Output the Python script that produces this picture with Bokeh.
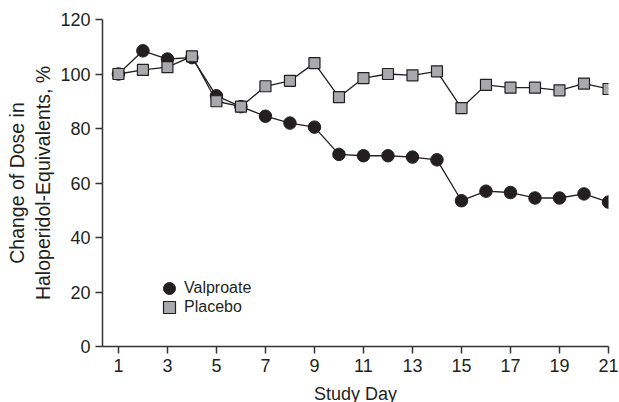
from bokeh.plotting import figure
from bokeh.models import Range1d, FixedTicker, Legend, LegendItem, ColumnDataSource
from bokeh.embed import file_html
from bokeh.resources import INLINE

days = list(range(1, 22))
valproate = [100, 108.5, 105.5, 106, 92, 88, 84.5, 82, 80.5, 70.5, 70, 70, 69.5, 68.5,
             53.5, 57, 56.5, 54.5, 54.5, 56, 53]
placebo = [100, 101.5, 102.5, 106.5, 90, 88, 95.5, 97.5, 104, 91.5, 98.5, 100, 99.5, 101,
           87.5, 96, 95, 95, 94, 96.5, 94.5]
x_ticks = list(range(1, 22, 2))
y_ticks = list(range(0, 121, 20))
series_names = ["Valproate", "Placebo"]
x_title = "Study Day"
y_title = "Change of Dose in\nHaloperidol-Equivalents, %"

FONT = "Liberation Sans"
INK = "#231f20"

p = figure(frame_width=506, frame_height=327, output_backend="svg", toolbar_location=None,
           x_range=Range1d(0.35, 21), y_range=Range1d(0, 120),
           min_border_left=102, min_border_top=19, min_border_right=11, min_border_bottom=50)
p.outline_line_color = None
p.grid.visible = False
p.background_fill_color = "white"

for ax in (p.xaxis[0], p.yaxis[0]):
    ax.axis_line_color = "#333333"
    ax.axis_line_width = 1.5
    ax.major_tick_line_color = "#333333"
    ax.major_tick_line_width = 1.5
    ax.major_tick_out = 7
    ax.major_tick_in = 0
    ax.minor_tick_line_color = None
    ax.major_label_text_font = FONT
    ax.major_label_text_font_size = "18px"
    ax.major_label_text_color = INK
    ax.major_label_standoff = 5
    ax.axis_label_text_font = FONT
    ax.axis_label_text_font_style = "normal"
    ax.axis_label_text_color = INK

p.xaxis[0].ticker = FixedTicker(ticks=x_ticks)
p.yaxis[0].ticker = FixedTicker(ticks=y_ticks)
p.xaxis[0].axis_label = x_title
p.xaxis[0].axis_label_text_font_size = "18px"
p.xaxis[0].axis_label_standoff = 9
p.yaxis[0].axis_label = y_title
p.yaxis[0].axis_label_text_font_size = "19.5px"
p.yaxis[0].axis_label_standoff = 3

src = ColumnDataSource(dict(day=days, v=valproate, pl=placebo))

p.line("day", "v", source=src, line_color=INK, line_width=1.3)
rv = p.scatter("day", "v", source=src, marker="circle", size=12.5,
               fill_color=INK, line_color=INK, line_width=1)
p.line("day", "pl", source=src, line_color=INK, line_width=1.3)
rp = p.scatter("day", "pl", source=src, marker="square", size=11,
               fill_color="#a7a9ac", line_color=INK, line_width=1.2)

common = dict(glyph_width=30, glyph_height=30, padding=0, margin=0, label_standoff=0,
              border_line_color=None, background_fill_alpha=0,
              label_text_font=FONT, label_text_font_size="16px", label_text_color=INK)
leg1 = Legend(items=[LegendItem(label=series_names[0], renderers=[rv])], location=(52, 43), **common)
leg2 = Legend(items=[LegendItem(label=series_names[1], renderers=[rp])], location=(52, 24), **common)
p.add_layout(leg1, "center")
p.add_layout(leg2, "center")

open("out.html", "w").write(file_html(p, INLINE))
